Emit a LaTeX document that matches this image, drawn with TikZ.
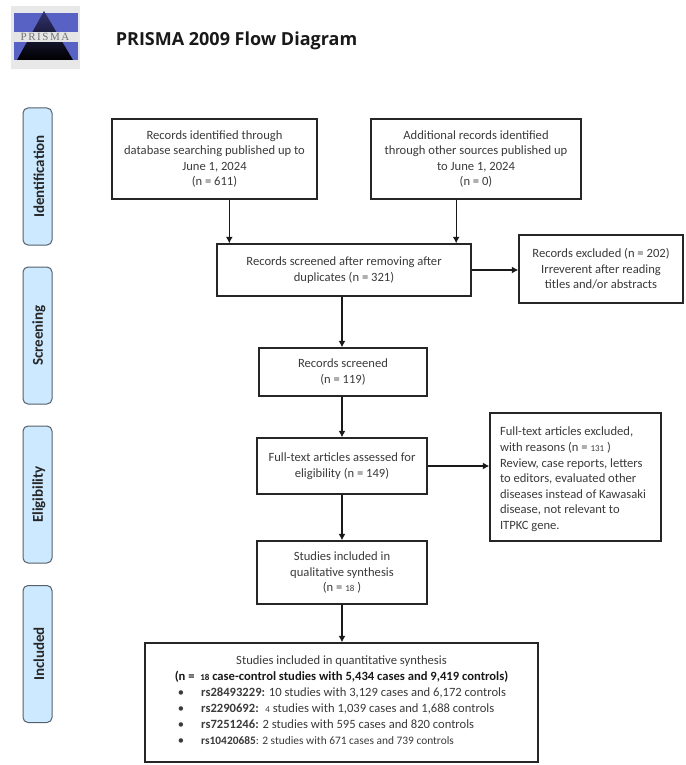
\documentclass[tikz,border=0pt]{standalone}
\usepackage{fontspec}
\setmainfont{Carlito}
\newfontfamily\titlefont{Open Sans}
\newfontfamily\logofont[LetterSpace=14]{Liberation Serif}
\usetikzlibrary{arrows.meta}
\definecolor{sidebg}{HTML}{CCE9FF}
\definecolor{sideln}{HTML}{55606A}
\definecolor{boxtxt}{HTML}{3A3A3A}
\definecolor{logoblue}{HTML}{5862C4}
\tikzset{
  box/.style={draw=black!85,line width=1.3pt,inner sep=0pt,text=boxtxt,align=center,font=\fontsize{12.6}{15.6}\selectfont},
  sidebox/.style={draw=sideln,fill=sidebg,line width=1pt,rounded corners=5pt,minimum width=29pt,minimum height=137pt,inner sep=0pt},
  sidetxt/.style={rotate=90,font=\fontsize{15}{17}\selectfont\bfseries,text=black!85},
  line/.style={text=boxtxt,font=\fontsize{12.6}{15.6}\selectfont,inner sep=0pt,anchor=base west},
  conn/.style={line width=1.3pt,black!90,-{Latex[length=6.5pt,width=7pt]}}
}
\begin{document}
\begin{tikzpicture}[x=1pt,y=-1pt]
  \useasboundingbox (0,0) rectangle (685,765);
  % logo
  \fill[black!9] (11,6) rectangle (80,69);
  \fill[logoblue] (14,13) rectangle (78,60);
  \shade[top color=black!60!blue!60!gray,bottom color=black] (44,11) -- (73,60) -- (17,60) -- cycle;
  \fill[white!80!gray] (13,32) rectangle (78,42.5);
  \node (logotxt) at (45,37.3) [inner sep=0pt,text=black!55,font=\fontsize{11}{11}\selectfont\logofont] {PRISMA};
  \node (title) at (236.5,41) [inner sep=0pt,font=\fontsize{18}{20}\selectfont\titlefont\bfseries,text=black!90] {PRISMA 2009 Flow Diagram};
  % phases
  \node (phaseA) at (37.5,176.5) [sidebox] {};
  \node at (39,176.5) [sidetxt] {Identification};
  \node (phaseB) at (37.5,335.5) [sidebox] {};
  \node at (39,335.5) [sidetxt] {Screening};
  \node (phaseC) at (37.5,494.5) [sidebox] {};
  \node at (39,494.5) [sidetxt] {Eligibility};
  \node (phaseD) at (37.5,654) [sidebox] {};
  \node at (39,654) [sidetxt] {Included};
  % boxes
  \node (dbase) at (214.5,159) [box,minimum width=205pt,minimum height=80pt] {Records identified through\\database searching published up to\\June 1, 2024\\(n = 611)};
  \node (other) at (476,159) [box,minimum width=210pt,minimum height=80pt] {Additional records identified\\through other sources published up\\to June 1, 2024\\(n = 0)};
  \node (dup) at (344,270) [box,minimum width=254pt,minimum height=52pt] {Records screened after removing after\\duplicates (n = 321)};
  \node (excl) at (601,269) [box,minimum width=164pt,minimum height=68pt] {Records excluded (n = 202)\\Irreverent after reading\\titles and/or abstracts};
  \node (screened) at (343,372) [box,minimum width=168pt,minimum height=48pt] {Records screened\\(n = 119)};
  \node (full) at (342,466) [box,minimum width=170pt,minimum height=56pt] {Full-text articles assessed for\\eligibility (n = 149)};
  \node (fullex) at (575.5,477) [box,minimum width=171pt,minimum height=128pt] {\begin{minipage}{151pt}\vspace*{5pt}\raggedright Full-text articles excluded,\\with reasons (n = {\small 131} )\\Review, case reports, letters\\to editors, evaluated other\\diseases instead of Kawasaki\\disease, not relevant to\\ITPKC gene.\end{minipage}};
  \node (qual) at (342,572.5) [box,minimum width=170pt,minimum height=63pt] {Studies included in\\qualitative synthesis\\(n = {\small 18} )};
  \node (quant) at (341.5,702.5) [box,minimum width=393pt,minimum height=119pt] {};
  % lines of the last box
  \node (qa) at (341.5,661) [inner sep=0pt,text=boxtxt,font=\fontsize{12.6}{14}\selectfont] {Studies included in quantitative synthesis};
  \node (qb) at (341.5,677) [inner sep=0pt,text=black!90,font=\fontsize{12.6}{14}\selectfont\bfseries] {(n = \ {\small 18} case-control studies with 5,434 cases and 9,419 controls)};
  \foreach \yy/\name/\txt in {696.5/rs28493229:/{10 studies with 3,129 cases and 6,172 controls},712.5/rs2290692:/{\ {\small 4} studies with 1,039 cases and 1,688 controls},728.5/rs7251246:/{2 studies with 595 cases and 820 controls}}
  {
    \node at (181,\yy) [line,anchor=base] {\textbullet};
    \node at (201,\yy) [line] {\textbf{\name} \txt};
  }
  \node at (181,744.5) [line,anchor=base] {\textbullet};
  \node at (201,744.5) [line,font=\fontsize{11.4}{14}\selectfont] {\textbf{rs10420685}: 2 studies with 671 cases and 739 controls};
  % arrows
  \draw[conn] (dbase.-70.7) -- (dbase.-70.7 |- dup.north);
  \draw[conn] (other.-116) -- (other.-116 |- dup.north);
  \draw[conn] (full.north |- dup.south) -- (full.north |- screened.north);
  \draw[conn] (full.north |- screened.south) -- (full.north);
  \draw[conn] (full.south) -- (qual.north);
  \draw[conn] (qual.south) -- (qual.south |- quant.north);
  \draw[conn] (dup.east) -- (dup.east -| excl.west);
  \draw[conn] (full.east) -- (full.east -| fullex.west);
\end{tikzpicture}
\end{document}
